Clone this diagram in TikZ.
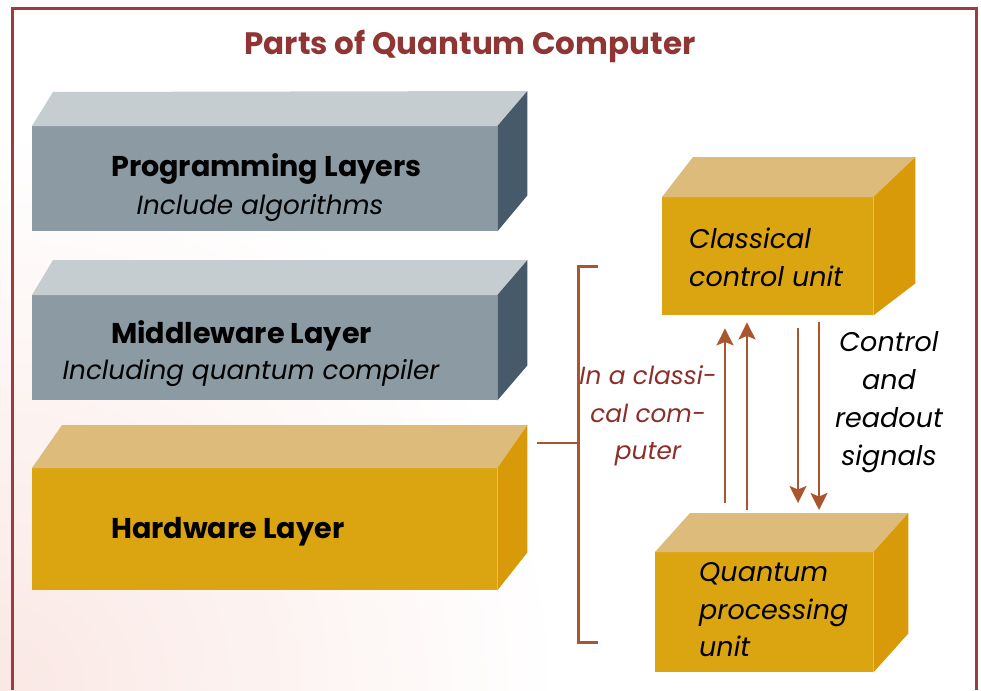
\documentclass[tikz,border=0pt]{standalone}
\usepackage{fontspec}
\setmainfont{Poppins}
\usetikzlibrary{arrows.meta,calc}
\definecolor{framec}{HTML}{9E3B3B}
\definecolor{titlec}{HTML}{8F3533}
\definecolor{gtop}{HTML}{C5CDD1}
\definecolor{gfront}{HTML}{8C9AA4}
\definecolor{gside}{HTML}{475A6A}
\definecolor{ytop}{HTML}{DDBC7B}
\definecolor{yfront}{HTML}{DBA511}
\definecolor{yside}{HTML}{D99A0A}
\definecolor{brkc}{HTML}{A9562E}
\definecolor{redtxt}{HTML}{8C2E2A}
\definecolor{bgpink}{HTML}{FAE8E4}
\begin{document}
\begin{tikzpicture}[x=1pt,y=-1pt,
  front/.style={draw=none, inner sep=0, anchor=north west},
  boldlbl/.style={inner sep=0, anchor=west, font=\bfseries\fontsize{28.6}{33}\selectfont},
  itlbl/.style={inner sep=0, font=\itshape\fontsize{26.3}{38}\selectfont},
  arr/.style={draw=brkc, line width=2.4pt, -{Stealth[length=17pt,width=17pt,inset=3.5pt]}},
  brk/.style={draw=brkc, line width=3pt}
]
\useasboundingbox (0,0) rectangle (981,690);
\fill[white] (0,0) rectangle (981,690);
\begin{scope}
\clip (0,0) rectangle (981,690);
\shade[inner color=bgpink, outer color=white] (0,690) circle (560);
\end{scope}
% frame
\draw[framec, line width=3pt] (12,690) -- (12,9) -- (976,9) -- (976,690);
% title
\node[text=titlec, font=\bfseries\fontsize{31}{36}\selectfont] (title) at (470,46) {Parts of Quantum Computer};

% Programming layer box
\node[front, fill=gfront, minimum width=465, minimum height=105] (prog) at (32,126) {};
\fill[gtop] (prog.north west) -- ++(21,-34) -- ($(prog.north east)+(30,-35)$) -- (prog.north east) -- cycle;
\fill[gside] (prog.north east) -- ++(30,-35) -- ($(prog.south east)+(30,-36)$) -- (prog.south east) -- cycle;
\node[boldlbl] (progt) at (111,169) {Programming Layers};
\node[itlbl] (progs) at (260,208) {Include algorithms};

% Middleware box
\node[front, fill=gfront, minimum width=465, minimum height=105] (mid) at (32,295) {};
\fill[gtop] (mid.north west) -- ++(21,-35) -- ($(mid.north east)+(30,-35)$) -- (mid.north east) -- cycle;
\fill[gside] (mid.north east) -- ++(30,-35) -- ($(mid.south east)+(30,-35)$) -- (mid.south east) -- cycle;
\node[boldlbl] (midt) at (111,336) {Middleware Layer};
\node[itlbl] (mids) at (251,373) {Including quantum compiler};

% Hardware box
\node[front, fill=yfront, minimum width=465, minimum height=122] (hw) at (32,468) {};
\fill[ytop] (hw.north west) -- ++(30,-43) -- ($(hw.north east)+(30,-43)$) -- (hw.north east) -- cycle;
\fill[yside] (hw.north east) -- ++(30,-43) -- ($(hw.south east)+(30,-38)$) -- (hw.south east) -- cycle;
\node[boldlbl] (hwt) at (111,532) {Hardware Layer};

% bracket
\coordinate (bt) at (598,266);
\coordinate (bb) at (598,642);
\coordinate (bm) at (578,443);
\coordinate (hwlink) at (537,443);
\draw[brk] (bt) -- (578,266) -- (578,642) -- (bb);
\draw[brk, line width=2pt] (hwlink) -- (bm);
\node[itlbl, text=redtxt, align=center, font=\itshape\fontsize{24.8}{37.5}\selectfont] (incl) at (648,416) {In a classi-\\cal com-\\puter};

% Classical control unit
\node[front, fill=yfront, minimum width=211, minimum height=118] (ccu) at (662,197) {};
\fill[ytop] (ccu.north west) -- ++(31,-40) -- ($(ccu.north east)+(42,-40)$) -- (ccu.north east) -- cycle;
\fill[yside] (ccu.north east) -- ++(42,-40) -- ($(ccu.south east)+(42,-32)$) -- (ccu.south east) -- cycle;
\node[itlbl, anchor=west, align=left, font=\itshape\fontsize{27}{38}\selectfont] (ccut) at (689,257) {Classical\\control unit};

% Quantum processing unit
\node[front, fill=yfront, minimum width=218, minimum height=120] (qpu) at (655,552) {};
\fill[ytop] (qpu.north west) -- ++(35,-39) -- ($(qpu.north east)+(35,-39)$) -- (qpu.north east) -- cycle;
\fill[yside] (qpu.north east) -- ++(35,-39) -- ($(qpu.south east)+(35,-39)$) -- (qpu.south east) -- cycle;
\node[itlbl, anchor=west, align=left, font=\itshape\fontsize{27}{37.5}\selectfont] (qput) at (699,610) {Quantum\\processing\\unit};

% arrows
\coordinate (u1) at (725,0);
\coordinate (u2) at (747,0);
\coordinate (d1) at (798,0);
\coordinate (d2) at (819,0);
\draw[arr, shorten <=49pt, shorten >=13pt] (qpu.north -| u1) -- (ccu.south -| u1);
\draw[arr, shorten <=42pt, shorten >=7pt] (qpu.north -| u2) -- (ccu.south -| u2);
\draw[arr, shorten <=13pt, shorten >=49pt] (ccu.south -| d1) -- (qpu.north -| d1);
\draw[arr, shorten <=7pt, shorten >=42pt] (ccu.south -| d2) -- (qpu.north -| d2);
\node[itlbl, align=center, font=\itshape\fontsize{27}{38}\selectfont] (sig) at (889,402) {Control\\and\\readout\\signals};
\end{tikzpicture}
\end{document}
